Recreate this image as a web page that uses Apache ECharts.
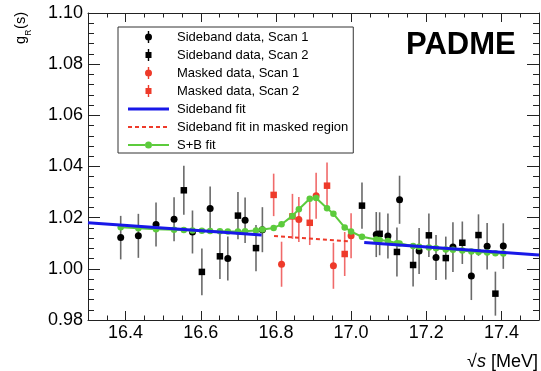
<!DOCTYPE html>
<html>
<head>
<meta charset="utf-8">
<script src="https://cdn.jsdelivr.net/npm/echarts@6/dist/echarts.min.js"></script>
<style>
  html, body { margin: 0; padding: 0; background: #fff; }
  #chart { width: 541px; height: 371px; }
</style>
</head>
<body>
<div id="chart"></div>
<script>
// sideband data, scan 1 (circles)
const sbScan1X = [16.387, 16.434, 16.481, 16.529, 16.578, 16.625, 16.672, 16.718, 16.764,
  17.067, 17.098, 17.129, 17.181, 17.226, 17.271, 17.320, 17.362, 17.405]
const sbScan1Y = [1.0122, 1.0129, 1.0173, 1.0194, 1.0144, 1.0236, 1.0040, 1.0190, 1.0153,
  1.0134, 1.0128, 1.0270, 1.0070, 1.0044, 1.0085, 0.9972, 1.0088, 1.0089]
const sbScan1Err = [0.0085, 0.0086, 0.0086, 0.0086, 0.0084, 0.0086, 0.0086, 0.0089, 0.0088,
  0.0088, 0.0088, 0.0094, 0.0090, 0.0088, 0.0097, 0.0094, 0.0091, 0.0089]

// sideband data, scan 2 (squares)
const sbScan2X = [16.555, 16.603, 16.651, 16.699, 16.747, 17.029, 17.076, 17.122, 17.165,
  17.207, 17.252, 17.296, 17.339, 17.384]
const sbScan2Y = [1.0307, 0.9988, 1.0049, 1.0208, 1.0081, 1.0247, 1.0137, 1.0066, 1.0015,
  1.0131, 1.0042, 1.0102, 1.0132, 0.9903]
const sbScan2Err = [0.0096, 0.0091, 0.0089, 0.0092, 0.0090, 0.0090, 0.0084, 0.0096, 0.0084,
  0.0085, 0.0084, 0.0083, 0.0081, 0.0086]

// masked region
const mScan1X = [16.815, 16.861, 16.907, 16.953, 17.000]
const mScan1Y = [1.0018, 1.0193, 1.0286, 1.0012, 1.0129]
const mScan1Err = [0.0088, 0.0088, 0.0090, 0.0090, 0.0088]
const mScan2X = [16.794, 16.844, 16.890, 16.936, 16.983]
const mScan2Y = [1.0289, 1.0205, 1.0180, 1.0325, 1.0058]
const mScan2Err = [0.0083, 0.0088, 0.0087, 0.0091, 0.0086]

// sideband fit (two pieces) and its continuation under the mask
const sbFitLeftX = [16.3, 16.762]
const sbFitLeftY = [1.0180, 1.0132]
const sbFitRightX = [17.035, 17.5]
const sbFitRightY = [1.0103, 1.0054]
const maskFitX = [16.795, 16.998]
const maskFitY = [1.0128, 1.0107]

// S+B fit evaluated at the data points
const sbFitX = [16.387, 16.434, 16.481, 16.529, 16.555, 16.578, 16.603, 16.625, 16.651, 16.672,
  16.699, 16.718, 16.747, 16.764, 16.794, 16.815, 16.844, 16.861, 16.890, 16.907, 16.936,
  16.953, 16.983, 17.000, 17.029, 17.067, 17.076, 17.098, 17.122, 17.129, 17.165, 17.181,
  17.207, 17.226, 17.252, 17.271, 17.296, 17.320, 17.339, 17.362, 17.384, 17.405]
const sbFitY = [1.0163, 1.0159, 1.0155, 1.0153, 1.0152, 1.0150, 1.0149, 1.0148, 1.0147, 1.0146,
  1.0146, 1.0147, 1.0150, 1.0154, 1.0160, 1.0174, 1.0207, 1.0233, 1.0274, 1.0277, 1.0237,
  1.0215, 1.0162, 1.0146, 1.0125, 1.0115, 1.0113, 1.0109, 1.0100, 1.0099, 1.0089, 1.0086,
  1.0083, 1.0080, 1.0076, 1.0075, 1.0072, 1.0068, 1.0066, 1.0064, 1.0061, 1.0060]

const FONT = 'Liberation Sans'
const AXIS = '#222'
const RED = '#ee3a2a'
const GREEN = '#5ccb3c'
const BLUE = '#1818e8'

// legend icons (marker with its error bar, plain / dashed line, line with dot)
const circIcon = 'path://M3.3,0H4.7V3H3.3Z M3.3,9H4.7V12H3.3Z M0.5,6A3.5,3.5,0,1,1,7.5,6A3.5,3.5,0,1,1,0.5,6Z'
const sqIcon = 'path://M3.3,0H4.7V3H3.3Z M3.3,9H4.7V12H3.3Z M1,3H7V9H1Z'
const lineIcon = 'path://M0,0H41V3H0Z'
const dashIcon = 'path://M0,0H4V2H0Z M7,0H11V2H7Z M14,0H18V2H14Z M21,0H25V2H21Z M28,0H32V2H28Z M35,0H39V2H35Z M39,0H41V0.01H39Z'
const dotLineIcon = 'path://M0,2.5H17V4.5H0Z M24,2.5H41V4.5H24Z M17,3.5A3.5,3.5,0,1,1,24,3.5A3.5,3.5,0,1,1,17,3.5Z'

const pts = (xs, ys) => xs.map((x, i) => [x, ys[i]])

const markers = (name, xs, ys, symbol, color, size) => ({
  name, type: 'scatter', symbol, symbolSize: size, z: 3,
  itemStyle: { color, opacity: 1 },
  emphasis: { disabled: true },
  data: pts(xs, ys)
})

const errorBars = (name, xs, ys, es, color, barColor) => ({
  name, type: 'custom', z: 2, silent: true,
  itemStyle: { color },
  encode: { x: 0, y: 1 },
  renderItem: (params, api) => {
    const x = api.value(0), y = api.value(1), e = api.value(2)
    const a = api.coord([x, y + e])
    const b = api.coord([x, y - e])
    return {
      type: 'line',
      shape: { x1: a[0], y1: a[1], x2: b[0], y2: b[1] },
      style: { stroke: barColor, lineWidth: 1.6 }
    }
  },
  data: xs.map((x, i) => [x, ys[i], es[i]])
})

// rotated piece of the y axis title (reads bottom to top, right end at y)
const yTitle = (text, x, y, size) => ({
  type: 'text', x, y, rotation: Math.PI / 2, silent: true,
  style: { text, fontFamily: FONT, fontSize: size, fill: '#000', align: 'right', verticalAlign: 'middle' }
})

const chart = echarts.init(document.getElementById('chart'))

const majorX = {
  type: 'value', min: 16.3, max: 17.5,
  axisLine: { lineStyle: { color: AXIS, width: 1 } },
  axisTick: { inside: true, length: 9, lineStyle: { color: AXIS } },
  splitLine: { show: false }
}
const minorX = {
  type: 'value', min: 16.3, max: 17.5, interval: 0.05,
  axisLine: { show: false },
  axisLabel: { show: false },
  axisTick: { inside: true, length: 4.5, lineStyle: { color: AXIS } },
  splitLine: { show: false }
}
const yBase = {
  type: 'value', min: 0.98, max: 1.10, interval: 0.02,
  axisLine: { show: true, lineStyle: { color: AXIS, width: 1 } },
  axisTick: { show: true, inside: true, length: 12, lineStyle: { color: AXIS } },
  minorTick: { show: true, splitNumber: 5, length: 6, lineStyle: { color: AXIS } },
  splitLine: { show: false }
}

chart.setOption({
  animation: false,
  backgroundColor: '#fff',
  grid: { left: 88, right: 0, top: 13, bottom: 49 },
  title: {
    text: 'PADME', left: 406, top: 30, padding: 0,
    textStyle: { fontFamily: FONT, fontSize: 31, fontWeight: 'bold', color: '#000' }
  },
  graphic: [
    yTitle('(s)', 21, 12, 14.5),
    yTitle('R', 29, 29.5, 8.5),
    yTitle('g', 21, 36, 14.5)
  ],
  legend: {
    orient: 'vertical', left: 118, top: 27,
    padding: [3, 5, 1, 10],
    borderColor: '#333', borderWidth: 1,
    itemWidth: 41, itemHeight: 12, itemGap: 4,
    selectedMode: false,
    textStyle: { fontFamily: FONT, fontSize: 13, lineHeight: 14, color: '#000', padding: [0, 0, 0, 3] },
    data: [
      { name: 'Sideband data, Scan 1', icon: circIcon },
      { name: 'Sideband data, Scan 2', icon: sqIcon },
      { name: 'Masked data, Scan 1', icon: circIcon },
      { name: 'Masked data, Scan 2', icon: sqIcon },
      { name: 'Sideband fit', icon: lineIcon },
      { name: 'Sideband fit in masked region', icon: dashIcon },
      { name: 'S+B fit', icon: dotLineIcon }
    ]
  },
  xAxis: [
    Object.assign({}, majorX, {
      position: 'bottom',
      axisLabel: {
        showMinLabel: false, showMaxLabel: false, margin: 4,
        fontFamily: FONT, fontSize: 18, color: '#000',
        formatter: v => v.toFixed(1)
      },
      name: '{r|√}{i|s}{n| [MeV]}',
      nameLocation: 'end', nameGap: -1,
      nameTextStyle: {
        align: 'right', verticalAlign: 'top', padding: [33, 0, 0, 0],
        rich: {
          r: { fontFamily: FONT, fontSize: 18, color: '#000' },
          i: { fontFamily: FONT, fontSize: 18, fontStyle: 'italic', color: '#000' },
          n: { fontFamily: FONT, fontSize: 18, color: '#000' }
        }
      }
    }),
    Object.assign({}, minorX, { position: 'bottom' }),
    Object.assign({}, majorX, { position: 'top', axisLabel: { show: false } }),
    Object.assign({}, minorX, { position: 'top' })
  ],
  yAxis: [
    Object.assign({}, yBase, {
      position: 'left',
      axisLabel: {
        margin: 5, fontFamily: FONT, fontSize: 18, color: '#000',
        formatter: v => v.toFixed(2)
      }
    }),
    Object.assign({}, yBase, { position: 'right', axisLabel: { show: false } })
  ],
  series: [
    markers('Sideband data, Scan 1', sbScan1X, sbScan1Y, 'circle', '#000', 7),
    markers('Sideband data, Scan 2', sbScan2X, sbScan2Y, 'rect', '#000', 6.5),
    markers('Masked data, Scan 1', mScan1X, mScan1Y, 'circle', RED, 7),
    markers('Masked data, Scan 2', mScan2X, mScan2Y, 'rect', RED, 6.5),
    errorBars('Sideband data, Scan 1', sbScan1X, sbScan1Y, sbScan1Err, '#000', '#6a6a6a'),
    errorBars('Sideband data, Scan 2', sbScan2X, sbScan2Y, sbScan2Err, '#000', '#6a6a6a'),
    errorBars('Masked data, Scan 1', mScan1X, mScan1Y, mScan1Err, RED, '#f06a6a'),
    errorBars('Masked data, Scan 2', mScan2X, mScan2Y, mScan2Err, RED, '#f06a6a'),
    {
      name: 'Sideband fit', type: 'line', symbol: 'none', z: 5,
      lineStyle: { color: BLUE, width: 3 }, itemStyle: { color: BLUE },
      data: pts(sbFitLeftX, sbFitLeftY)
    },
    {
      name: 'Sideband fit', type: 'line', symbol: 'none', z: 5,
      lineStyle: { color: BLUE, width: 3 }, itemStyle: { color: BLUE },
      data: pts(sbFitRightX, sbFitRightY)
    },
    {
      name: 'Sideband fit in masked region', type: 'line', symbol: 'none', z: 5,
      lineStyle: { color: RED, width: 2, type: [4, 3] }, itemStyle: { color: RED },
      data: pts(maskFitX, maskFitY)
    },
    {
      name: 'S+B fit', type: 'line', symbol: 'circle', symbolSize: 6.5, showAllSymbol: true, z: 4,
      lineStyle: { color: GREEN, width: 2 }, itemStyle: { color: GREEN },
      data: pts(sbFitX, sbFitY)
    }
  ]
})
</script>
</body>
</html>
